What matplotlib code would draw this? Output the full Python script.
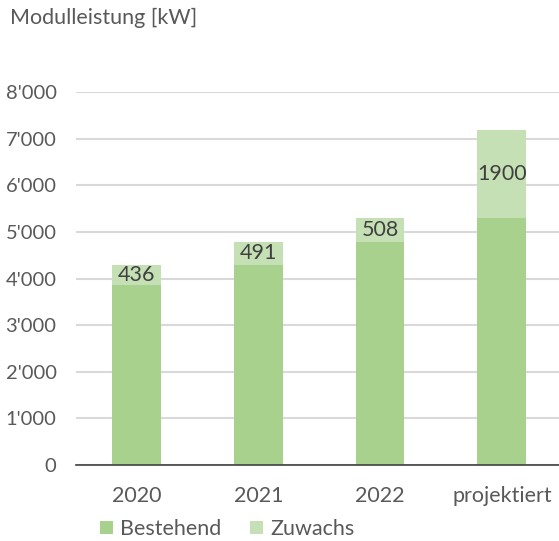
import matplotlib
matplotlib.use("Agg")
import matplotlib.pyplot as plt
import numpy as np
from matplotlib.ticker import FuncFormatter

categories = ["2020", "2021", "2022", "projektiert"]
bestehend = [3856, 4292, 4783, 5291]
zuwachs = [436, 491, 508, 1900]
series_names = ["Bestehend", "Zuwachs"]

c_best = "#A9D18E"
c_zuw = "#C5E0B4"
txt = "#595959"

plt.rcParams['font.family'] = ['Lato', 'DejaVu Sans']

fig = plt.figure(figsize=(5.59, 5.41), dpi=100)
ax = fig.add_axes([76/559, 76/541, (559-76)/559, (465-92)/541])

x = np.arange(len(categories))
w = 0.40
b1 = ax.bar(x, bestehend, w, color=c_best, label=series_names[0], zorder=3)
b2 = ax.bar(x, zuwachs, w, bottom=bestehend, color=c_zuw, label=series_names[1], zorder=3)

for xi, b, z in zip(x, bestehend, zuwachs):
    ax.text(xi, b + z / 2, str(z), ha="center", va="center", fontsize=15.5, color="#404040", zorder=4)

ax.set_ylim(0, 8000)
ax.set_xlim(-0.5, 3.47)
ax.set_yticks(range(0, 8001, 1000))
ax.yaxis.set_major_formatter(FuncFormatter(lambda v, p: "0" if v == 0 else f"{int(v):,}".replace(",", "'")))
ax.grid(axis="y", color="#D9D9D9", linewidth=1.5, zorder=0)
ax.set_axisbelow(True)
for s in ["top", "right", "left"]:
    ax.spines[s].set_visible(False)
ax.spines["bottom"].set_color("#404040")
ax.spines["bottom"].set_linewidth(1.2)
ax.spines["bottom"].set_zorder(5)
ax.tick_params(axis="both", length=0, labelsize=14.5, colors=txt)
ax.tick_params(axis="x", labelsize=15.5)
ax.tick_params(axis="y", pad=14)
ax.tick_params(axis="x", pad=15)
ax.set_xticks(x)
ax.set_xticklabels(categories)

fig.text(10/559, 1 - 18/541, "Modulleistung [kW]", fontsize=15.5, color=txt, ha="left", va="center")

leg = fig.legend(handles=[b1, b2], loc="center left", bbox_to_anchor=(100/559, 1 - 529/541),
                 ncol=2, frameon=False, fontsize=15.5, handlelength=0.6, handleheight=0.6,
                 handletextpad=0.35, columnspacing=1.3, borderaxespad=0, borderpad=0)
for t in leg.get_texts():
    t.set_color(txt)

fig.savefig("out.png", dpi=100)
